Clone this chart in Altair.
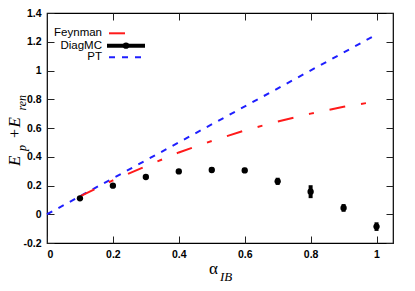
import altair as alt
import pandas as pd

# ---- data ----
alpha = [0.1, 0.2, 0.3, 0.4, 0.5, 0.6, 0.7, 0.8, 0.9, 1.0]
diagmc = [0.111, 0.199, 0.259, 0.298, 0.308, 0.305, 0.229, 0.157, 0.044, -0.086]
diagmc_err = [0.01, 0.01, 0.01, 0.012, 0.018, 0.018, 0.025, 0.045, 0.027, 0.03]
feynman = [0.125, 0.235, 0.334, 0.43, 0.51, 0.583, 0.645, 0.70, 0.748, 0.785]
pt_x = [0.0, 1.0]
pt_y = [0.0, 1.25]

x_ticks = [0, 0.2, 0.4, 0.6, 0.8, 1]
y_ticks = [-0.2, 0, 0.2, 0.4, 0.6, 0.8, 1, 1.2, 1.4]

W, H = 346, 230

df_mc = pd.DataFrame({"a": alpha, "e": diagmc,
                      "lo": [v - s for v, s in zip(diagmc, diagmc_err)],
                      "hi": [v + s for v, s in zip(diagmc, diagmc_err)]})
df_fy = pd.DataFrame({"a": alpha, "e": feynman})
df_pt = pd.DataFrame({"a": pt_x, "e": pt_y})
one = pd.DataFrame({"k": [0]})

xs = alt.Scale(domain=[0, 1.05], nice=False, zero=False)
ys = alt.Scale(domain=[-0.2, 1.4], nice=False, zero=False)

lab_font = "Liberation Sans"
common_axis = dict(domain=False, grid=False, ticks=True, tickSize=7, offset=-7,
                   tickColor="#222222", tickWidth=1, title=None,
                   labelFont=lab_font, labelFontWeight="bold", labelFontSize=10.5,
                   labelColor="black")

x_axis = alt.Axis(orient="bottom", values=x_ticks, labelPadding=6,
                  labelExpr="'' + datum.value", **common_axis)
y_axis = alt.Axis(orient="left", values=y_ticks, labelPadding=6,
                  labelExpr="'' + datum.value", **common_axis)
x_axis_top = alt.Axis(orient="top", values=x_ticks, labels=False, **common_axis)
y_axis_right = alt.Axis(orient="right", values=y_ticks, labels=False, **common_axis)

pt = alt.Chart(df_pt).mark_line(color="#1f1fff", strokeWidth=2, strokeDash=[6, 7]).encode(
    x=alt.X("a:Q", scale=xs, axis=x_axis),
    y=alt.Y("e:Q", scale=ys, axis=y_axis),
)

mirror = alt.Chart(df_pt).mark_point(opacity=0).encode(
    x=alt.X("a:Q", scale=xs, axis=x_axis_top),
    y=alt.Y("e:Q", scale=ys, axis=y_axis_right),
)

fy = alt.Chart(df_fy).mark_line(color="#ff1a1a", strokeWidth=2, strokeDash=[16, 16, 5, 16]).encode(
    x=alt.X("a:Q", scale=xs, axis=None),
    y=alt.Y("e:Q", scale=ys, axis=None),
)

err = alt.Chart(df_mc).mark_rule(color="black", strokeWidth=4).encode(
    x=alt.X("a:Q", scale=xs, axis=None),
    y=alt.Y("lo:Q", scale=ys, axis=None),
    y2="hi:Q",
)

pts = alt.Chart(df_mc).mark_circle(color="black", opacity=1, size=40).encode(
    x=alt.X("a:Q", scale=xs, axis=None),
    y=alt.Y("e:Q", scale=ys, axis=None),
)

# ---- legend (manual, top-left inside the frame) ----
leg_font = dict(font=lab_font, fontSize=11.5, align="right", baseline="middle", color="black")
rows = [("Feynman", 20.3), ("DiagMC", 32.7), ("PT", 44.3)]
leg_text = [alt.Chart(one).mark_text(text=t, **leg_font).encode(x=alt.value(55), y=alt.value(yy))
            for t, yy in rows]
leg_fy = alt.Chart(one).mark_rule(color="#ff1a1a", strokeWidth=2, strokeDash=[16, 16, 5, 16]).encode(
    x=alt.value(62), x2=alt.value(92), y=alt.value(20.3))
leg_mc = alt.Chart(one).mark_rule(color="black", strokeWidth=4).encode(
    x=alt.value(60), x2=alt.value(98), y=alt.value(32.7))
leg_mc_pt = alt.Chart(one).mark_circle(color="black", opacity=1, size=40).encode(
    x=alt.value(79), y=alt.value(32.7))
leg_pt = alt.Chart(one).mark_rule(color="#1f1fff", strokeWidth=2, strokeDash=[6, 7]).encode(
    x=alt.value(62), x2=alt.value(96), y=alt.value(44.3))

# ---- axis titles built from text pieces (sub-scripts) ----
serif = "Liberation Serif"
def piece(txt, x, y, size, italic=True, angle=0, align="left"):
    return alt.Chart(one).mark_text(text=txt, font=serif, fontSize=size,
                                    fontStyle="italic" if italic else "normal",
                                    align=align, baseline="alphabetic", angle=angle,
                                    color="black").encode(x=alt.value(x), y=alt.value(y))

# y title (rotated 270): pieces run upward from their anchors
YB = -27   # main baseline (relative to plot left)
ytitle = [
    piece("E", YB, 153, 17, angle=270),
    piece("p", YB + 6, 138, 12, angle=270),
    piece("+", YB, 125, 16, italic=False, angle=270),
    piece("E", YB, 114.5, 17, angle=270),
    piece("ren", YB + 6, 97.5, 12, angle=270),
]
xtitle = [
    piece("α", 162, 261, 17, italic=False),
    piece("IB", 173, 268, 13),
]

chart = alt.layer(pt, fy, err, pts, mirror, *leg_text, leg_fy, leg_mc, leg_mc_pt, leg_pt,
                  *ytitle, *xtitle).resolve_axis(x="independent", y="independent").properties(
    width=W, height=H,
    autosize=alt.AutoSizeParams(type="none"),
    padding={"left": 39, "top": 5, "right": 14, "bottom": 40},
    background="white",
).configure_view(stroke="black", strokeWidth=1.2)

chart.save("out.html", embed_options={"renderer": "svg", "actions": False})
